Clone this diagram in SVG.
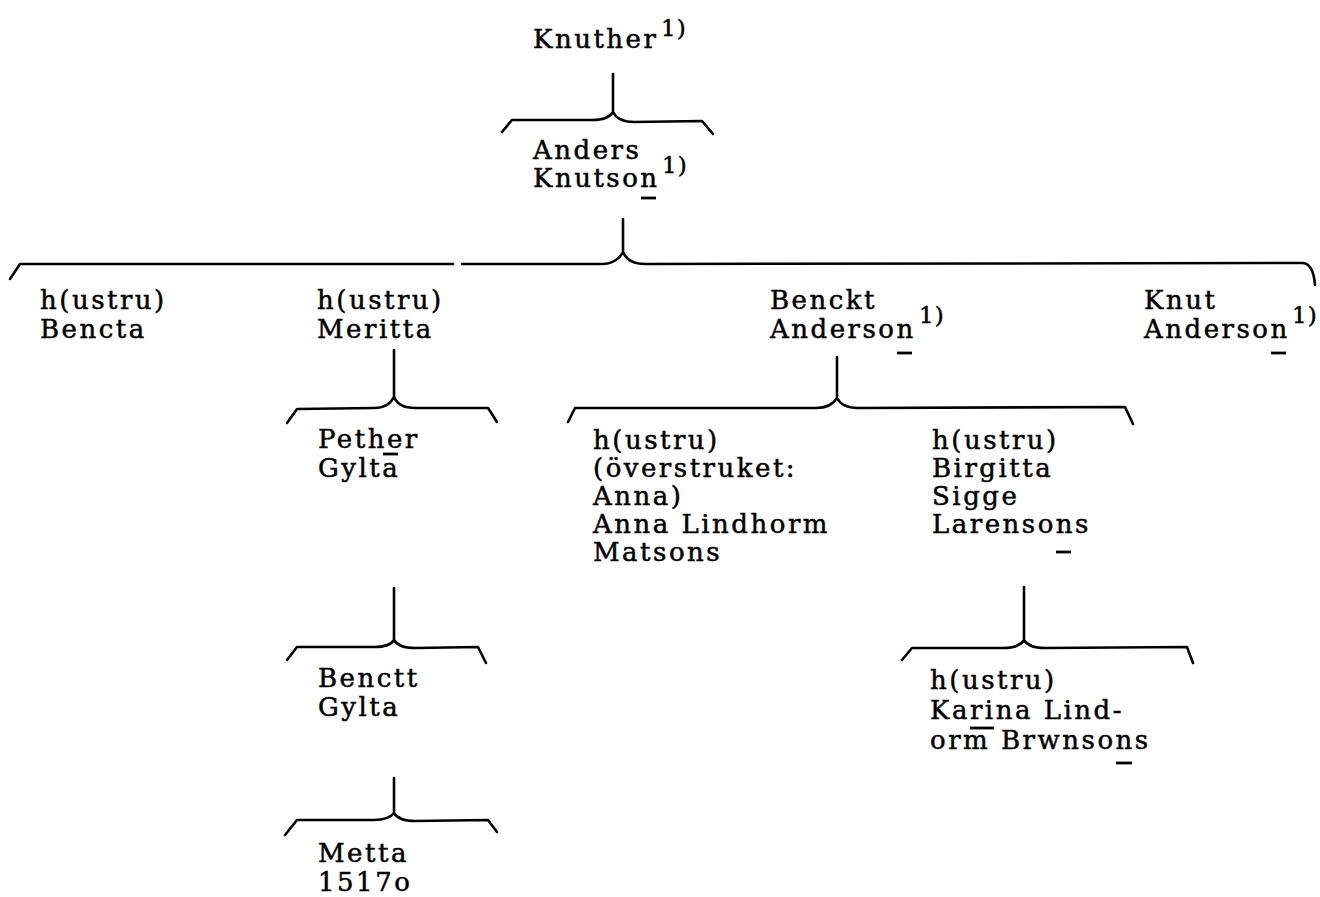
<svg xmlns="http://www.w3.org/2000/svg" width="1320" height="897" viewBox="0 0 1320 897">
<style>
text{font-family:"DejaVu Serif","Liberation Serif",serif;font-size:26px;letter-spacing:2.5px;fill:#000;stroke:#000;stroke-width:0.5px}
.sup{font-size:23px;letter-spacing:1px}
.br{fill:none;stroke:#000;stroke-width:2.6;stroke-linejoin:round;stroke-linecap:round}
.mk{stroke:#000;stroke-width:2.8}
</style>
<rect width="1320" height="897" fill="#fff"/>
<g id="connectors">
<path class="br" d="M613,74 V112 M502,132 L512,120 L592,120 C603,120 610,117 613,112 C616,118 623,122 634,122 L702,121 L713,134"/>
<path class="br" d="M623,219 V252 M10,279 L20,264 L453,264 M462,264 L602,264 C613,264 620,258 623,252 C626,259 633,264 645,264 L1302,263 C1310,263 1314,272 1315,285"/>
<path class="br" d="M394,350 V397 M287,423 L297,409 L374,408 C385,408 391,403 394,397 C397,404 404,408 415,408 L488,408 L497,422"/>
<path class="br" d="M394,588 V640 M287,660 L297,647 L374,647 C385,647 391,645 394,640 C397,645 404,648 415,648 L478,647 L486,663"/>
<path class="br" d="M394,778 V813 M285,835 L297,820 L374,820 C385,820 391,817 394,813 C397,818 404,821 415,821 L488,820 L497,832"/>
<path class="br" d="M837,357 V398 M568,422 L575,408 L816,408 C827,408 834,403 837,398 C840,404 847,408 858,408 L1125,407 L1133,424"/>
<path class="br" d="M1024,587 V640 M902,660 L912,648 L1003,648 C1014,648 1021,645 1024,640 C1027,645 1034,648 1045,648 L1187,647 L1193,663"/>
</g>
<g id="knuther"><text x="533" y="48">Knuther</text><text class="sup" x="661" y="36">1)</text></g>
<g id="anders"><text x="533" y="159">Anders</text><text x="533" y="187">Knutson</text><text class="sup" x="662" y="173">1)</text><line class="mk" x1="641" y1="198" x2="656" y2="198"/></g>
<g id="bencta"><text x="40" y="309">h(ustru)</text><text x="40" y="338">Bencta</text></g>
<g id="meritta"><text x="317" y="309">h(ustru)</text><text x="317" y="338">Meritta</text></g>
<g id="benckt"><text x="770" y="309">Benckt</text><text x="770" y="338">Anderson</text><text class="sup" x="919" y="323">1)</text><line class="mk" x1="897" y1="353" x2="912" y2="353"/></g>
<g id="knut"><text x="1144" y="309">Knut</text><text x="1144" y="338">Anderson</text><text class="sup" x="1292" y="323">1)</text><line class="mk" x1="1271" y1="353" x2="1286" y2="353"/></g>
<g id="pether"><text x="318" y="448">Pether</text><text x="318" y="477">Gylta</text><line class="mk" x1="383" y1="454" x2="398" y2="454"/></g>
<g id="anna"><text x="593" y="449">h(ustru)</text><text x="593" y="477">(överstruket:</text><text x="593" y="505">Anna)</text><text x="593" y="533">Anna Lindhorm</text><text x="593" y="561">Matsons</text></g>
<g id="birgitta"><text x="932" y="449">h(ustru)</text><text x="932" y="477">Birgitta</text><text x="932" y="505">Sigge</text><text x="932" y="533">Larensons</text><line class="mk" x1="1056" y1="552" x2="1071" y2="552"/></g>
<g id="benctt"><text x="318" y="687">Benctt</text><text x="318" y="716">Gylta</text></g>
<g id="karina"><text x="930" y="689">h(ustru)</text><text x="930" y="719">Karina Lind-</text><text x="930" y="749">orm Brwnsons</text><line class="mk" x1="970" y1="728" x2="994" y2="728"/><line class="mk" x1="1116" y1="763" x2="1132" y2="763"/></g>
<g id="metta"><text x="318" y="862">Metta</text><text x="318" y="891">1517o</text></g>
</svg>
